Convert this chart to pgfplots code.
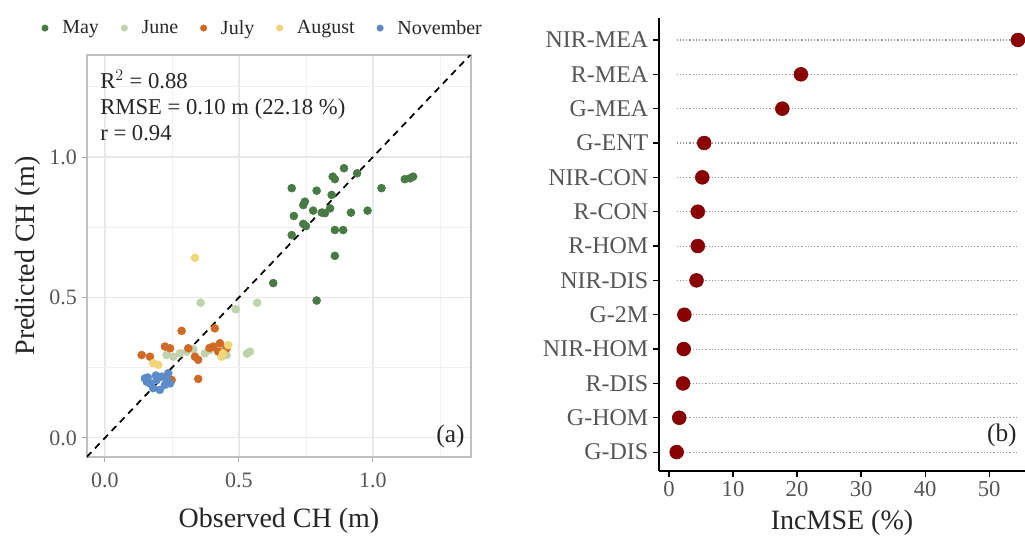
\documentclass[border=0pt]{standalone}
\usepackage{pgfplots}
\pgfplotsset{compat=1.18}
\usepackage{fontspec}
\setmainfont{Liberation Serif}
\definecolor{cmay}{RGB}{72,122,70}
\definecolor{cjune}{RGB}{192,210,172}
\definecolor{cjuly}{RGB}{208,105,35}
\definecolor{caug}{RGB}{240,214,120}
\definecolor{cnov}{RGB}{92,140,200}
\definecolor{tickgray}{RGB}{85,85,85}
\definecolor{darkred}{RGB}{139,0,0}
\begin{document}
\begin{tikzpicture}[x=1pt,y=1pt]
\useasboundingbox (0,0) rectangle (768.75,402);
% ---------------- panel (a)
\begin{axis}[
  at={(65.25pt,59.25pt)}, anchor=south west, scale only axis,
  width=288pt, height=301.5pt,
  xmin=-0.067, xmax=1.366, ymin=-0.068, ymax=1.363,
  xtick={0,0.5,1}, ytick={0,0.5,1},
  minor xtick={0.25,0.75,1.25}, minor ytick={0.25,0.75,1.25},
  grid=both,
  major grid style={black!9, line width=0.9pt},
  minor grid style={black!6, line width=0.5pt},
  axis line style={black!25, line width=0.8pt},
  tick pos=left, tick align=outside,
  major tick length=4pt, minor tick length=0pt,
  tick style={black!35, line width=0.7pt},
  ticklabel style={font=\fontsize{16.5}{19}\selectfont, text=tickgray},
  xticklabel style={yshift=-4pt},
  xlabel={Observed CH (m)}, ylabel={Predicted CH (m)},
  label style={font=\fontsize{21}{24}\selectfont, text=black!85},
  xlabel style={yshift=-9pt},
  ylabel style={yshift=0pt},
  /pgf/number format/fixed, /pgf/number format/fixed zerofill,
  /pgf/number format/precision=1, /pgf/number format/assume math mode=true,
  legend columns=5,
  legend style={draw=none, fill=none, at={(0.456,1.067)}, anchor=center,
    font=\fontsize{15}{17}\selectfont, text=black!85,
    /tikz/every even column/.append style={column sep=13pt}},
  legend image code/.code={\path[draw=none, fill=none] (0pt,-0.1pt) rectangle (15pt,0.1pt); \draw[#1, draw=none, mark size=2.4pt] plot[only marks] coordinates {(4pt,0pt)};},
]
\addplot[only marks, mark=*, mark size=3pt, mark options={draw=cmay, fill=cmay}] table {
x y
0.697 0.889
0.790 0.880
0.892 0.960
0.850 0.930
0.858 0.921
0.941 0.942
1.032 0.889
1.119 0.921
1.138 0.924
1.150 0.930
0.846 0.865
0.746 0.841
0.740 0.829
0.777 0.809
0.809 0.802
0.821 0.800
0.840 0.817
0.918 0.802
0.980 0.809
0.705 0.790
0.740 0.762
0.750 0.754
0.858 0.740
0.889 0.740
0.697 0.722
0.858 0.648
0.628 0.551
0.790 0.489
};
\addlegendentry{May}
\addplot[only marks, mark=*, mark size=3pt, mark options={draw=cjune, fill=cjune}] table {
x y
0.357 0.481
0.488 0.458
0.568 0.481
0.541 0.307
0.530 0.300
0.255 0.289
0.280 0.301
0.305 0.307
0.373 0.301
0.392 0.313
0.441 0.325
0.454 0.295
0.230 0.295
0.330 0.315
};
\addlegendentry{June}
\addplot[only marks, mark=*, mark size=3pt, mark options={draw=cjuly, fill=cjuly}] table {
x y
0.137 0.295
0.168 0.289
0.286 0.381
0.410 0.390
0.224 0.325
0.243 0.319
0.311 0.319
0.336 0.289
0.348 0.278
0.404 0.325
0.429 0.337
0.423 0.307
0.454 0.319
0.348 0.210
0.249 0.206
0.390 0.320
};
\addlegendentry{July}
\addplot[only marks, mark=*, mark size=3pt, mark options={draw=caug, fill=caug}] table {
x y
0.336 0.641
0.180 0.266
0.199 0.260
0.441 0.301
0.435 0.289
0.460 0.330
};
\addlegendentry{August}
\addplot[only marks, mark=*, mark size=3pt, mark options={draw=cnov, fill=cnov}] table {
x y
0.149 0.212
0.168 0.194
0.193 0.206
0.212 0.218
0.230 0.212
0.180 0.177
0.205 0.171
0.243 0.194
0.156 0.200
0.224 0.189
0.236 0.230
0.190 0.222
0.160 0.215
};
\addlegendentry{November}
\addplot[black, line width=1.3pt, dash pattern=on 5pt off 4pt, forget plot] coordinates {(-0.068,-0.068) (1.366,1.366)};
\node[anchor=north west, align=left, font=\fontsize{17}{19.5}\selectfont, text=black!85, inner sep=0pt]
  at (rel axis cs:0.034,0.963) {R$^{2}$ = 0.88\\RMSE = 0.10 m (22.18 \%)\\r = 0.94};
\node[anchor=east, font=\fontsize{19}{22}\selectfont, text=black!85, inner sep=0pt]
  at (rel axis cs:0.984,0.05) {(a)};
\end{axis}
% ---------------- panel (b)
\begin{axis}[
  at={(494.25pt,48.75pt)}, anchor=south west, scale only axis,
  width=274.5pt, height=339.75pt,
  xmin=-1.56, xmax=55.6, ymin=0.45, ymax=13.64,
  axis x line*=bottom, axis y line*=left,
  axis line style={black, line width=1.1pt, -},
  xtick={0,10,20,30,40,50},
  ytick={1,2,3,4,5,6,7,8,9,10,11,12,13},
  yticklabels={G-DIS,G-HOM,R-DIS,NIR-HOM,G-2M,NIR-DIS,R-HOM,R-CON,NIR-CON,G-ENT,G-MEA,R-MEA,NIR-MEA},
  tick align=outside, major tick length=4.5pt,
  tick style={black, line width=0.9pt},
  xticklabel style={font=\fontsize{17}{20}\selectfont, text=tickgray},
  yticklabel style={font=\fontsize{18}{21}\selectfont, text=tickgray},
  /pgf/number format/assume math mode=true,
  xlabel={IncMSE (\%)},
  xlabel style={font=\fontsize{21}{24}\selectfont, text=black!85, yshift=-3pt},
  clip=false,
]
\pgfplotsinvokeforeach{1,...,13}{
  \addplot[black!40, line width=0.8pt, dash pattern=on 0.8pt off 1.6pt] coordinates {(1.2,#1) (54.5,#1)};
}
\addplot[only marks, mark=*, mark size=5.2pt, mark options={fill=darkred, draw=darkred!80!black}] table {
x y
1.2 1
1.6 2
2.2 3
2.3 4
2.4 5
4.3 6
4.5 7
4.5 8
5.2 9
5.5 10
17.7 11
20.6 12
54.5 13
};
\node[anchor=east, font=\fontsize{19}{22}\selectfont, text=black!85, inner sep=0pt]
  at (rel axis cs:0.978,0.079) {(b)};
\end{axis}
\end{tikzpicture}
\end{document}
